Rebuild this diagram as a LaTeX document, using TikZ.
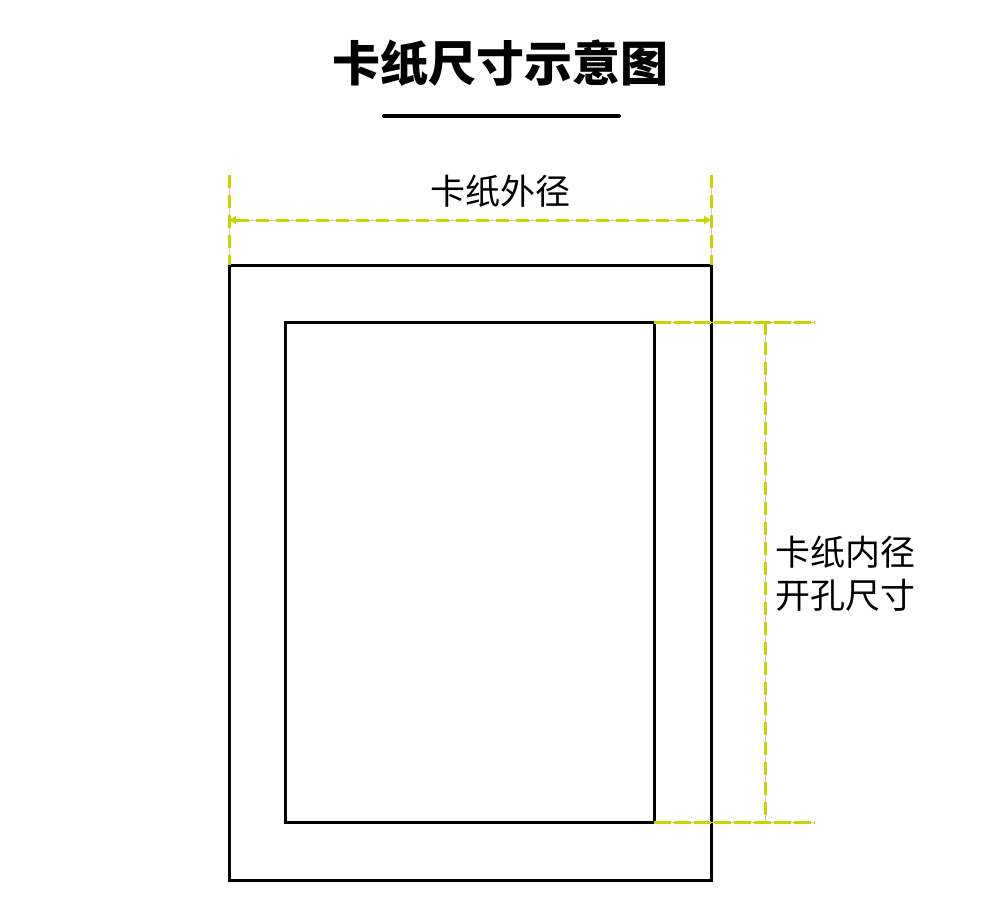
\documentclass[tikz,border=0pt]{standalone}
\usepackage{fontspec}
\newfontfamily\cjk{Noto Sans CJK SC}
\usetikzlibrary{arrows.meta}
\definecolor{dimc}{HTML}{C8D400}
\begin{document}
\begin{tikzpicture}[x=1pt,y=-1pt,
  frame/.style={draw=black,line width=3pt},
  dimline/.style={draw=dimc,line width=3pt,dash pattern=on 13pt off 7pt},
  dimtight/.style={draw=dimc,line width=3pt,dash pattern=on 17pt off 3pt},
  guide/.style={draw=black!20,line width=1pt},
  lbl/.style={font=\cjk\fontsize{35}{43}\selectfont,inner sep=0pt,align=left}]
\useasboundingbox (0,0) rectangle (1000,922);
% title
\node[font=\cjk\bfseries\fontsize{48}{52}\selectfont,inner sep=0pt] (title) at (500,63) {卡纸尺寸示意图};
\coordinate (ul1) at (384,116);
\coordinate (ul2) at (619,116);
\draw[line width=4pt,line cap=round] (ul1) -- (ul2);
% rectangles
\coordinate (o1) at (229,265);
\coordinate (o2) at (711,880);
\coordinate (i1) at (285,322);
\coordinate (i2) at (654,822);
\draw[frame] (o1) rectangle (o2);
\draw[frame] (i1) rectangle (i2);
% top dimension
\coordinate (tl) at (229,175);
\coordinate (tr) at (711,175);
\coordinate (ml) at (229,220);
\coordinate (mr) at (711,220);
\coordinate (ol) at (229,265);
\coordinate (or) at (711,265);
\foreach \a/\b in {tl/ol,tr/or,ml/mr}{\draw[guide] (\a) -- (\b);}
\draw[dimline] (tl) -- (ol);
\draw[dimline] (tr) -- (or);
\draw[dimline,{Triangle[length=7pt,width=8pt]}-{Triangle[length=7pt,width=8pt]},fill=dimc] (ml) -- (mr);
\node[lbl] (outer) at (500,191) {卡纸外径};
% right dimension
\coordinate (ra) at (654,322);
\coordinate (rb) at (815,322);
\coordinate (rc) at (654,822);
\coordinate (rd) at (815,822);
\coordinate (va) at (765,322);
\coordinate (vb) at (765,822);
\foreach \a/\b in {ra/rb,rc/rd,va/vb}{\draw[guide] (\a) -- (\b);}
\draw[dimtight] (ra) -- (rb);
\draw[dimtight] (rc) -- (rd);
\draw[dimline] (va) -- (vb);
\node[lbl,anchor=west] (inner) at (775,574) {卡纸内径\\开孔尺寸};
\end{tikzpicture}
\end{document}
